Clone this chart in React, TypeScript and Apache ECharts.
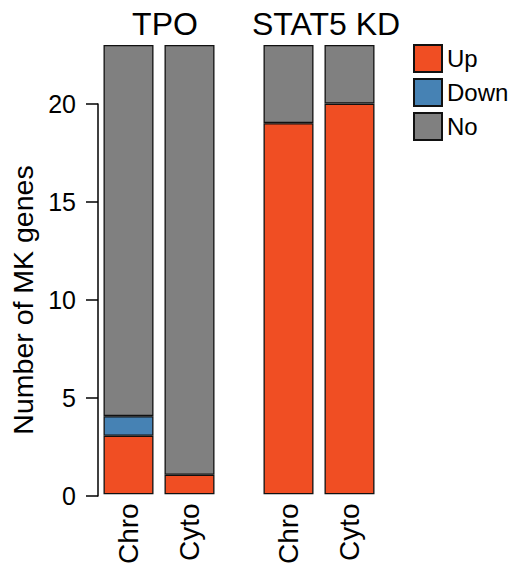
import React, { useEffect, useRef } from "react";
import * as echarts from "echarts";

const groups = ["TPO", "STAT5 KD"];
const categories = ["Chro", "Cyto"];
const tpoUp = [3, 1];
const tpoDown = [1, 0];
const tpoNo = [19, 22];
const stat5Up = [19, 20];
const stat5Down = [0, 0];
const stat5No = [4, 3];
const legendNames = ["Up", "Down", "No"];
const yTicksMax = 20;
const yTickInterval = 5;

const FONT = "Liberation Sans";
const colors: Record<string, string> = { Up: "#F04E23", Down: "#4682B4", No: "#808080" };

export default function App() {
  const ref = useRef<HTMLDivElement>(null);
  useEffect(() => {
    if (!ref.current) return;
    const chart = echarts.init(ref.current, null, { renderer: "svg" });
    const z = (arr: number[]) => arr.map((v) => (v === 0 ? "-" : v));
    const mk = (name: string, data: number[], gi: number) => ({
      type: "bar",
      name,
      stack: "s" + gi,
      xAxisIndex: gi,
      yAxisIndex: gi,
      barWidth: 50,
      data: z(data),
      itemStyle: { color: colors[name], borderColor: "#111", borderWidth: 1.3 },
    });
    const hiddenY = (gi: number) => ({
      type: "value",
      gridIndex: gi,
      min: 0,
      max: 23,
      show: false,
    });
    const catX = (gi: number) => ({
      type: "category",
      gridIndex: gi,
      data: categories,
      axisLine: { show: false },
      axisTick: { show: false },
      axisLabel: {
        rotate: 90,
        margin: 9,
        fontFamily: FONT,
        fontSize: 28,
        color: "#000",
      },
    });
    const titleStyle = { fontFamily: FONT, fontSize: 32, fontWeight: "normal", color: "#000" };
    chart.setOption({
      animation: false,
      title: [
        { text: groups[0], left: 160, top: 3, textAlign: "center", textStyle: titleStyle },
        { text: groups[1], left: 321, top: 3, textAlign: "center", textStyle: titleStyle },
      ],
      legend: {
        data: legendNames,
        orient: "vertical",
        left: 413,
        top: 44,
        padding: 0,
        itemWidth: 28,
        itemHeight: 27,
        itemGap: 5,
        icon: "rect",
        textStyle: { fontFamily: FONT, fontSize: 24, color: "#000" },
      },
      grid: [
        { left: 98, width: 122, top: 45, bottom: 71 },
        { left: 258, width: 122, top: 45, bottom: 71 },
        { left: 98, width: 282, top: 104, bottom: 71 },
      ],
      xAxis: [catX(0), catX(1), { type: "value", gridIndex: 2, show: false }],
      yAxis: [
        hiddenY(0),
        hiddenY(1),
        {
          type: "value",
          gridIndex: 2,
          min: 0,
          max: yTicksMax,
          interval: yTickInterval,
          offset: 5,
          splitLine: { show: false },
          axisLine: { show: true, lineStyle: { color: "#000", width: 1.5 } },
          axisTick: { show: true, length: 12, lineStyle: { color: "#000", width: 1.5 } },
          axisLabel: { margin: 17, fontFamily: FONT, fontSize: 25, color: "#000" },
          name: "Number of MK genes",
          nameLocation: "middle",
          nameRotate: 90,
          nameGap: 52,
          nameTextStyle: { fontFamily: FONT, fontSize: 28.5, color: "#000", padding: [0, 0, 0, 0] },
        },
      ],
      series: [
        mk("Up", tpoUp, 0),
        mk("Down", tpoDown, 0),
        mk("No", tpoNo, 0),
        mk("Up", stat5Up, 1),
        mk("Down", stat5Down, 1),
        mk("No", stat5No, 1),
      ],
    });
    return () => chart.dispose();
  }, []);
  return (
    <div
      ref={ref}
      style={{ position: "absolute", left: 0, top: 0, width: 512, height: 567 }}
    />
  );
}
